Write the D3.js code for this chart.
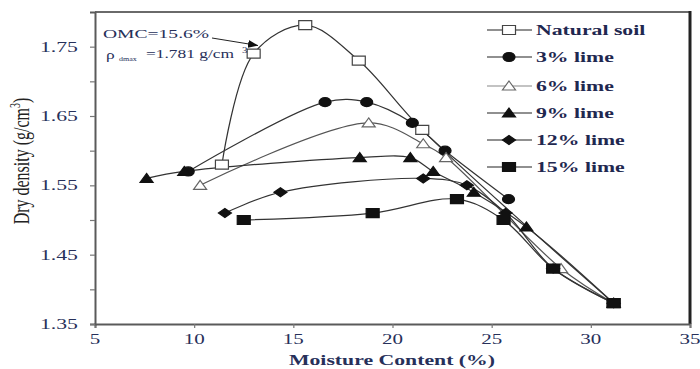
<!DOCTYPE html>
<html>
<head>
<meta charset="utf-8">
<script src="https://cdn.jsdelivr.net/npm/d3@7/dist/d3.min.js"></script>
<style>
  html, body { margin: 0; padding: 0; background: #fff; }
  svg { display: block; }
  text { font-family: "Liberation Serif", "Times New Roman", serif; }
</style>
</head>
<body>
<svg id="chart" width="700" height="369"></svg>
<script>
// Compaction curves: dry density vs. moisture content for lime-treated soil
const seriesNames = ["Natural soil", "3% lime", "6% lime", "9% lime", "12% lime", "15% lime"];
const seriesShapes = ["squareOpen", "circle", "triangleOpen", "triangle", "diamond", "square"];

const naturalMoisture = [11.4, 13.0, 15.6, 18.3, 21.5, 31.15];
const naturalDensity  = [1.58, 1.74, 1.781, 1.73, 1.63, 1.38];

const lime3Moisture = [9.7, 16.6, 18.7, 21.0, 22.65, 25.85];
const lime3Density  = [1.57, 1.67, 1.67, 1.64, 1.60, 1.53];

const lime6Moisture = [10.3, 18.8, 21.55, 22.7, 28.5, 31.15];
const lime6Density  = [1.55, 1.64, 1.61, 1.59, 1.43, 1.38];

const lime9Moisture = [7.6, 9.5, 18.35, 20.9, 22.05, 24.1, 26.75, 31.15];
const lime9Density  = [1.56, 1.57, 1.59, 1.59, 1.57, 1.54, 1.49, 1.38];

const lime12Moisture = [11.55, 14.35, 21.55, 23.75, 25.7, 28.1, 31.15];
const lime12Density  = [1.51, 1.54, 1.56, 1.55, 1.51, 1.43, 1.38];

const lime15Moisture = [12.5, 19.0, 23.25, 25.6, 28.1, 31.15];
const lime15Density  = [1.50, 1.51, 1.53, 1.50, 1.43, 1.38];

const xTicks = [5, 10, 15, 20, 25, 30, 35];
const yTicks = [1.35, 1.45, 1.55, 1.65, 1.75];
const yMinorTicks = [1.40, 1.50, 1.60, 1.70];

const omcValue = 15.6;
const rhoMaxValue = 1.781;

const moistureSets = [naturalMoisture, lime3Moisture, lime6Moisture, lime9Moisture, lime12Moisture, lime15Moisture];
const densitySets  = [naturalDensity, lime3Density, lime6Density, lime9Density, lime12Density, lime15Density];

const series = seriesNames.map((name, i) => ({
  name,
  shape: seriesShapes[i],
  points: moistureSets[i].map((m, j) => ({ x: m, y: densitySets[i][j] }))
}));

const svg = d3.select("#chart");
const textColor = "#27305a";
const stretch = 1.45; // horizontal text stretch

const margin = { left: 95, right: 10, top: 12, bottom: 45 };
const x = d3.scaleLinear().domain([5, 35]).range([95, 690]);
const y = d3.scaleLinear().domain([1.35, 1.80]).range([324, 12]);

// Frame: top and right border
svg.append("line").attr("x1", 95).attr("x2", 690).attr("y1", y(1.80)).attr("y2", y(1.80))
  .attr("stroke", "#6a6a6a").attr("stroke-width", 2);
svg.append("line").attr("x1", 690).attr("x2", 690).attr("y1", y(1.80) - 1).attr("y2", y(1.35))
  .attr("stroke", "#222").attr("stroke-width", 3);

// X axis
const xAxis = svg.append("g").attr("transform", `translate(0,${y(1.35)})`)
  .call(d3.axisBottom(x).tickValues(xTicks).tickSize(4).tickFormat(""));
xAxis.select(".domain").attr("stroke", "#5a5a5a").attr("stroke-width", 2);
xAxis.selectAll(".tick line").attr("stroke", "#777").attr("stroke-width", 1.2);

svg.append("g").selectAll("text").data(xTicks).join("text")
  .attr("transform", d => `translate(${x(d)},344) scale(${stretch},1)`)
  .attr("text-anchor", "middle")
  .attr("font-size", 14.5)
  .attr("fill", textColor)
  .text(d => d);

// Y axis
const yAxis = svg.append("g").attr("transform", `translate(${x(5)},0)`)
  .call(d3.axisLeft(y).tickValues(yTicks.concat(yMinorTicks)).tickSize(5).tickFormat(""));
yAxis.select(".domain").attr("stroke", "#5a5a5a").attr("stroke-width", 2);
yAxis.selectAll(".tick line").attr("stroke", "#777").attr("stroke-width", 1.2);

svg.append("g").selectAll("text").data(yTicks).join("text")
  .attr("transform", d => `translate(78,${y(d) + 5}) scale(${stretch},1)`)
  .attr("text-anchor", "end")
  .attr("font-size", 15)
  .attr("fill", textColor)
  .text(d => d.toFixed(2));

// Axis titles
svg.append("text")
  .attr("transform", `translate(392,365) scale(${stretch},1)`)
  .attr("text-anchor", "middle")
  .attr("font-size", 15)
  .attr("font-weight", "bold")
  .attr("fill", textColor)
  .text("Moisture Content (%)");

const yTitle = svg.append("text")
  .attr("transform", `translate(28.5,161) scale(${stretch},1) rotate(-90)`)
  .attr("text-anchor", "middle")
  .attr("font-size", 16)
  .attr("fill", "#222");
yTitle.append("tspan").text("Dry density (g/cm");
yTitle.append("tspan").attr("font-size", 10).attr("dy", -6).text("3");
yTitle.append("tspan").attr("dy", 6).text(")");

// Marker shapes (wider than tall)
const markerPath = {
  square:       "M-6.5,-4.5H6.5V4.5H-6.5Z",
  squareOpen:   "M-6.5,-4.5H6.5V4.5H-6.5Z",
  circle:       "M-6,0A6,4.5 0 1,0 6,0A6,4.5 0 1,0 -6,0Z",
  triangle:     "M0,-5L6.5,4L-6.5,4Z",
  triangleOpen: "M0,-5L6.5,4L-6.5,4Z",
  diamond:      "M0,-4.5L6.5,0L0,4.5L-6.5,0Z"
};
const isOpen = s => s === "squareOpen" || s === "triangleOpen";
const strokeFor = s => s === "triangleOpen" ? "#666" : (s === "squareOpen" ? "#444" : "#111");
const lineColorFor = s => s === "triangleOpen" ? "#555" : "#333";

// Curves
const line = d3.line()
  .x(d => x(d.x))
  .y(d => y(d.y))
  .curve(d3.curveCatmullRom.alpha(0.5));

const plot = svg.append("g");
plot.selectAll("path.curve").data(series).join("path")
  .attr("class", "curve")
  .attr("d", d => line(d.points))
  .attr("fill", "none")
  .attr("stroke", d => lineColorFor(d.shape))
  .attr("stroke-width", 1.2);

// Markers
series.forEach(s => {
  plot.append("g").selectAll("path").data(s.points).join("path")
    .attr("transform", d => `translate(${x(d.x)},${y(d.y)})`)
    .attr("d", markerPath[s.shape])
    .attr("fill", isOpen(s.shape) ? "#fff" : "#111")
    .attr("stroke", strokeFor(s.shape))
    .attr("stroke-width", 1.2);
});

// OMC annotation
const annot = svg.append("g");
annot.append("text")
  .attr("transform", `translate(103,38) scale(${stretch},1)`)
  .attr("font-size", 13.5)
  .attr("fill", textColor)
  .text(`OMC=${omcValue}%`);
annot.append("text")
  .attr("transform", `translate(106,59) scale(${stretch},1)`)
  .attr("font-size", 12)
  .attr("fill", textColor)
  .text("\u03c1");
annot.append("text")
  .attr("transform", `translate(119,61) scale(${stretch},1)`)
  .attr("font-size", 5.5)
  .attr("fill", textColor)
  .text("dmax");
annot.append("text")
  .attr("transform", `translate(146,58) scale(${stretch},1)`)
  .attr("font-size", 12)
  .attr("fill", textColor)
  .text(`=${rhoMaxValue} g/cm`);
annot.append("text")
  .attr("transform", `translate(242,53) scale(${stretch},1)`)
  .attr("font-size", 7.5)
  .attr("fill", textColor)
  .text("3");

svg.append("defs").append("marker")
  .attr("id", "arrowHead")
  .attr("viewBox", "0 0 10 8")
  .attr("refX", 10).attr("refY", 4)
  .attr("markerWidth", 10).attr("markerHeight", 8)
  .attr("markerUnits", "userSpaceOnUse")
  .attr("orient", "auto")
  .append("path").attr("d", "M0,0L10,4L0,8Z").attr("fill", "#111");
annot.append("line")
  .attr("x1", 212).attr("y1", 38)
  .attr("x2", 258).attr("y2", 45.5)
  .attr("stroke", "#222").attr("stroke-width", 1)
  .attr("marker-end", "url(#arrowHead)");

// Legend
const legendRows = [30, 57, 86, 113, 140, 167];
const legend = svg.append("g").selectAll("g").data(series).join("g")
  .attr("transform", (d, i) => `translate(0,${legendRows[i]})`);
legend.append("line")
  .attr("x1", 487).attr("x2", 532).attr("y1", 0).attr("y2", 0)
  .attr("stroke", d => d.shape === "triangleOpen" ? "#888" : "#222")
  .attr("stroke-width", 1.2);
legend.append("path")
  .attr("transform", "translate(509,0)")
  .attr("d", d => markerPath[d.shape])
  .attr("fill", d => isOpen(d.shape) ? "#fff" : "#111")
  .attr("stroke", d => strokeFor(d.shape))
  .attr("stroke-width", 1.2);
legend.append("text")
  .attr("transform", `translate(536,5) scale(${stretch},1)`)
  .attr("font-size", 15)
  .attr("font-weight", "bold")
  .attr("fill", "#1f2850")
  .text(d => d.name);
</script>
</body>
</html>
